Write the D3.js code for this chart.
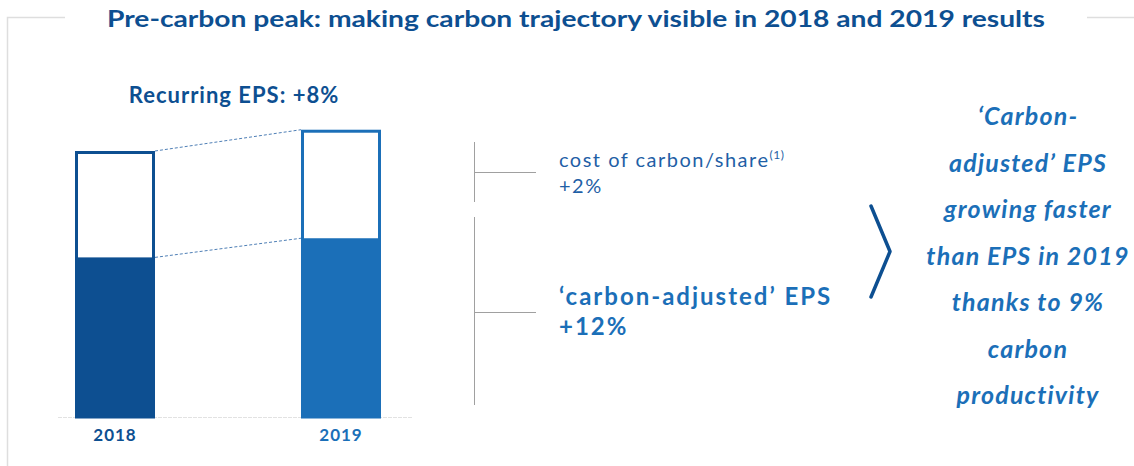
<!DOCTYPE html>
<html>
<head>
<meta charset="utf-8">
<script src="https://cdn.jsdelivr.net/npm/d3@7"></script>
<style>
  body { margin: 0; background: #fff; }
  text { font-family: "Lato", "Open Sans", sans-serif; }
</style>
</head>
<body>
<svg></svg>
<script>
// values (2018 recurring EPS = 100)
var years = ["2018", "2019"];
var recurringEPS = [100, 108];
var carbonAdjustedEPS = [60, 67.2];
var barColors = ["#0d4f91", "#1b6fb8"];

var rightLines = ["\u2018Carbon-", "adjusted\u2019 EPS", "growing faster", "than EPS in 2019", "thanks to 9%", "carbon", "productivity"];

var initilize = function(){
  var screen = {width: 1134, height: 466};
  var svg = d3.select("svg")
    .attr("width", screen.width)
    .attr("height", screen.height);

  // frame
  svg.append("path")
    .attr("d", "M65,17.5 H7.5 V466")
    .attr("fill", "none").attr("stroke", "#dedede").attr("stroke-width", 1.5);
  svg.append("line")
    .attr("x1", 1087).attr("x2", 1134).attr("y1", 17.5).attr("y2", 17.5)
    .attr("stroke", "#dedede").attr("stroke-width", 1.5);

  svg.append("text")
    .attr("x", 576).attr("y", 27)
    .attr("text-anchor", "middle")
    .attr("font-size", 23).attr("font-weight", "bold")
    .attr("fill", "#0d4f91")
    .attr("textLength", 938).attr("lengthAdjust", "spacingAndGlyphs")
    .text("Pre-carbon peak: making carbon trajectory visible in 2018 and 2019 results");

  var xScale = d3.scaleBand()
    .domain(years)
    .range([75, 381])
    .paddingInner(0.646)
    .paddingOuter(0);
  var yScale = d3.scaleLinear()
    .domain([0, 100])
    .range([417, 151]);

  // baseline
  svg.append("line")
    .attr("x1", 58).attr("x2", 412)
    .attr("y1", yScale(0) + 0.5).attr("y2", yScale(0) + 0.5)
    .attr("stroke", "#e2e2e2").attr("stroke-width", 1)
    .attr("stroke-dasharray", "4,1");

  // dotted connectors
  var links = [recurringEPS, carbonAdjustedEPS];
  svg.selectAll(".link")
    .data(links)
    .enter()
    .append("line")
    .attr("class", "link")
    .attr("x1", xScale(years[0]) + xScale.bandwidth())
    .attr("y1", function(d){ return yScale(d[0]); })
    .attr("x2", xScale(years[1]))
    .attr("y2", function(d){ return yScale(d[1]); })
    .attr("stroke", "#4f7fb6").attr("stroke-width", 1)
    .attr("stroke-dasharray", "3,2");

  // outline (full recurring EPS)
  svg.selectAll(".outline")
    .data(years)
    .enter()
    .append("rect")
    .attr("class", "outline")
    .attr("x", function(d){ return xScale(d) + 1.5; })
    .attr("y", function(d, i){ return yScale(recurringEPS[i]) + 1.5; })
    .attr("width", xScale.bandwidth() - 3)
    .attr("height", function(d, i){ return yScale(0) - yScale(recurringEPS[i]) - 1.5; })
    .attr("fill", "#fff")
    .attr("stroke", function(d, i){ return barColors[i]; })
    .attr("stroke-width", 3);

  // filled (carbon-adjusted EPS)
  svg.selectAll(".fill")
    .data(years)
    .enter()
    .append("rect")
    .attr("class", "fill")
    .attr("x", function(d){ return xScale(d); })
    .attr("y", function(d, i){ return yScale(carbonAdjustedEPS[i]); })
    .attr("width", xScale.bandwidth())
    .attr("height", function(d, i){ return yScale(0) - yScale(carbonAdjustedEPS[i]); })
    .attr("fill", function(d, i){ return barColors[i]; });

  svg.selectAll(".year")
    .data(years)
    .enter()
    .append("text")
    .attr("class", "year")
    .attr("x", function(d){ return xScale(d) + xScale.bandwidth() / 2; })
    .attr("y", 441)
    .attr("text-anchor", "middle")
    .attr("font-size", 17).attr("font-weight", "bold")
    .attr("letter-spacing", 1)
    .attr("fill", function(d, i){ return barColors[i]; })
    .text(function(d){ return d; });

  svg.append("text")
    .attr("x", 234).attr("y", 103)
    .attr("text-anchor", "middle")
    .attr("font-size", 22).attr("font-weight", "bold")
    .attr("letter-spacing", 1)
    .attr("fill", "#0d4f91")
    .text("Recurring EPS: +8%");

  // brackets
  var g = svg.append("g").attr("stroke", "#a0a0a0").attr("stroke-width", 1);
  g.append("line").attr("x1", 474.5).attr("x2", 474.5).attr("y1", 142).attr("y2", 202);
  g.append("line").attr("x1", 474.5).attr("x2", 536).attr("y1", 172.5).attr("y2", 172.5);
  g.append("line").attr("x1", 474.5).attr("x2", 474.5).attr("y1", 217).attr("y2", 405);
  g.append("line").attr("x1", 474.5).attr("x2", 536).attr("y1", 312.5).attr("y2", 312.5);

  var t1 = svg.append("text")
    .attr("x", 559).attr("y", 167)
    .attr("font-size", 20).attr("letter-spacing", 1.5).attr("fill", "#1f5fa6");
  t1.append("tspan").text("cost of carbon/share");
  t1.append("tspan").attr("font-size", 12).attr("letter-spacing", 0.5).attr("dy", -8).text("(1)");
  svg.append("text")
    .attr("x", 559).attr("y", 193)
    .attr("font-size", 20).attr("letter-spacing", 1.5).attr("fill", "#1f5fa6")
    .text("+2%");

  svg.append("text")
    .attr("x", 559).attr("y", 305)
    .attr("font-size", 24).attr("font-weight", "bold").attr("letter-spacing", 2).attr("fill", "#1b6fb8")
    .text("\u2018carbon-adjusted\u2019 EPS");
  svg.append("text")
    .attr("x", 559).attr("y", 335)
    .attr("font-size", 24).attr("font-weight", "bold").attr("letter-spacing", 2).attr("fill", "#1b6fb8")
    .text("+12%");

  // chevron
  svg.append("path")
    .attr("d", "M871,206 L890,251.5 L871,297")
    .attr("fill", "none").attr("stroke", "#0d4f91")
    .attr("stroke-width", 3.5).attr("stroke-linecap", "round").attr("stroke-linejoin", "round");

  svg.selectAll(".rline")
    .data(rightLines)
    .enter()
    .append("text")
    .attr("class", "rline")
    .attr("x", 1028)
    .attr("y", function(d, i){ return 125 + i * 46.5; })
    .attr("text-anchor", "middle")
    .attr("font-size", 25).attr("font-weight", "bold").attr("font-style", "italic")
    .attr("letter-spacing", 1.2)
    .attr("fill", "#1b6fb8")
    .text(function(d){ return d; });
}

initilize();
</script>
</body>
</html>
